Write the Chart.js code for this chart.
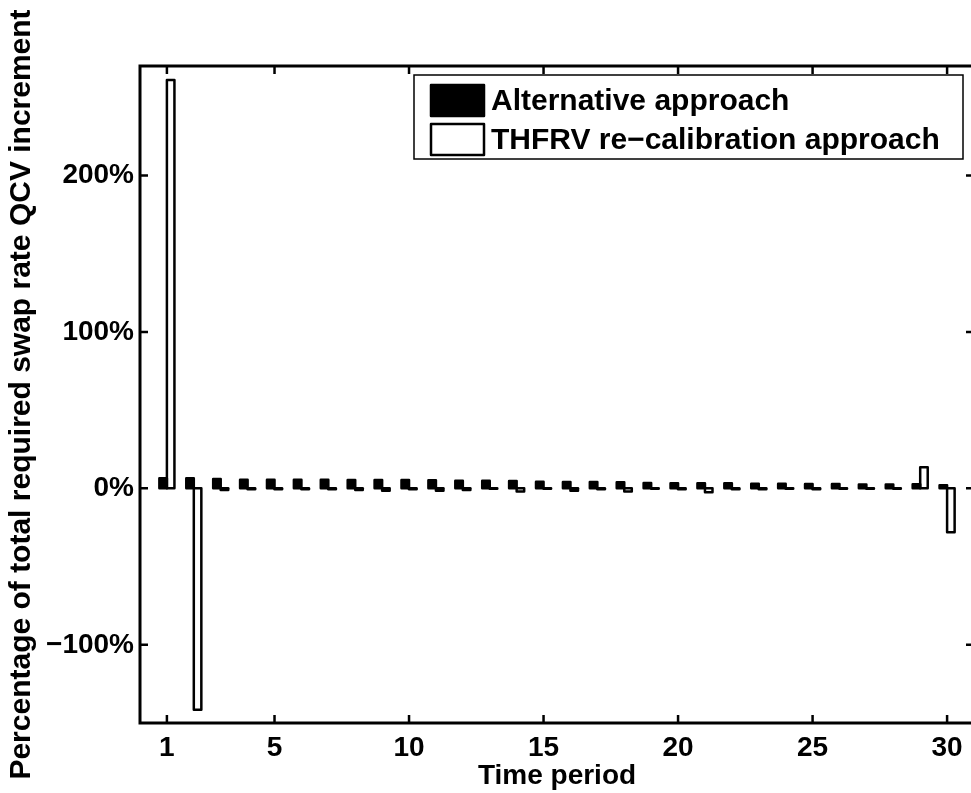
<!DOCTYPE html>
<html>
<head>
<meta charset="utf-8">
<script src="https://cdn.jsdelivr.net/npm/chart.js@4/dist/chart.umd.min.js"></script>
<style>
  html, body { margin: 0; padding: 0; background: #fff; overflow: hidden; }
  #wrap { position: absolute; left: 0; top: 0; width: 980px; height: 793px; }
</style>
</head>
<body>
<div id="wrap"><canvas id="chart" width="980" height="793"></canvas></div>
<script>
// ---- DATA ----
const periods = [1, 2, 3, 4, 5, 6, 7, 8, 9, 10, 11, 12, 13, 14, 15,
                 16, 17, 18, 19, 20, 21, 22, 23, 24, 25, 26, 27, 28, 29, 30];
const alternative = [6.5, 6.5, 6, 5.5, 5.5, 5.5, 5.5, 5.4, 5.4, 5.3, 5.2, 4.8, 4.8, 4.7, 4.3,
                     4.0, 4.0, 3.9, 3.4, 3.3, 3.3, 3.2, 3.0, 3.0, 2.8, 2.8, 2.5, 2.5, 2.6, 2.0];
const thfrv = [261, -141.5, -1, -0.5, -0.5, -0.5, -0.5, -1, -1.5, -0.5, -1.5, -1, -0.3, -2, -0.3,
               -1.5, -0.5, -2, -0.2, -0.5, -2.5, -0.5, -0.5, -0.3, -0.5, -0.3, -0.3, -0.3, 13.5, -28];
const xTicks = [1, 5, 10, 15, 20, 25, 30];
const yTicks = [-100, 0, 100, 200];
const seriesNames = ['Alternative approach', 'THFRV re\u2212calibration approach'];

const FONT = '"Liberation Sans", Arial, Helvetica, sans-serif';

// ---- PLUGINS ----
// matlab style outline round each bar (centred stroke)
const barOutline = {
  id: 'barOutline',
  afterDatasetsDraw(chart) {
    const ctx = chart.ctx;
    ctx.save();
    ctx.lineWidth = 2.5;
    ctx.lineJoin = 'round';
    ctx.strokeStyle = '#000';
    chart.data.datasets.forEach((ds, i) => {
      chart.getDatasetMeta(i).data.forEach(el => {
        const { x, y, base, width } = el.getProps(['x', 'y', 'base', 'width'], true);
        ctx.strokeRect(x - width / 2, Math.min(y, base), width, Math.abs(base - y));
      });
    });
    ctx.restore();
  }
};

// box round the axes with inward ticks on all four sides
const axesBox = {
  id: 'axesBox',
  afterDraw(chart) {
    const { ctx, chartArea: a, scales } = chart;
    const len = 8;
    ctx.save();
    ctx.strokeStyle = '#000';
    ctx.lineWidth = 3;
    ctx.strokeRect(a.left, a.top, a.right - a.left, a.bottom - a.top);
    ctx.lineWidth = 2.5;
    ctx.beginPath();
    scales.x.ticks.forEach(t => {
      const px = scales.x.getPixelForValue(t.value);
      ctx.moveTo(px, a.bottom); ctx.lineTo(px, a.bottom - len);
      ctx.moveTo(px, a.top);    ctx.lineTo(px, a.top + len);
    });
    scales.y.ticks.forEach(t => {
      const py = scales.y.getPixelForValue(t.value);
      ctx.moveTo(a.left, py);  ctx.lineTo(a.left + len, py);
      ctx.moveTo(a.right, py); ctx.lineTo(a.right - len, py);
    });
    ctx.stroke();
    ctx.restore();
  }
};

// legend box, top right inside the axes
const boxLegend = {
  id: 'boxLegend',
  afterDraw(chart) {
    const ctx = chart.ctx;
    const bx = 414, by = 75, bw = 549, bh = 84;
    ctx.save();
    ctx.fillStyle = '#fff';
    ctx.fillRect(bx, by, bw, bh);
    ctx.strokeStyle = '#000';
    ctx.lineWidth = 1.5;
    ctx.strokeRect(bx, by, bw, bh);
    ctx.font = 'bold 30px ' + FONT;
    ctx.textBaseline = 'middle';
    chart.data.datasets.forEach((ds, i) => {
      const sy = by + 10 + i * 39;
      ctx.fillStyle = ds.backgroundColor;
      ctx.fillRect(431, sy, 53, 31);
      ctx.lineWidth = 2.5;
      ctx.lineJoin = 'round';
      ctx.strokeRect(431, sy, 53, 31);
      ctx.fillStyle = '#000';
      ctx.fillText(ds.label, 491, sy + 17);
    });
    ctx.restore();
  }
};

// ---- CHART ----
const pts = vals => periods.map((p, i) => ({ x: p, y: vals[i] }));

new Chart(document.getElementById('chart'), {
  type: 'bar',
  data: {
    datasets: [
      { label: seriesNames[0], data: pts(alternative), backgroundColor: '#000', borderWidth: 0 },
      { label: seriesNames[1], data: pts(thfrv), backgroundColor: '#fff', borderWidth: 0 }
    ]
  },
  options: {
    responsive: false,
    animation: false,
    devicePixelRatio: 1,
    categoryPercentage: 0.56,
    barPercentage: 1.0,
    layout: { padding: { top: 66, right: 6, bottom: 0, left: 0 } },
    plugins: { legend: { display: false }, tooltip: { enabled: false } },
    scales: {
      x: {
        type: 'linear',
        min: 0, max: 31,
        offset: false,
        grid: { display: false, drawTicks: false },
        border: { display: false },
        afterBuildTicks: s => { s.ticks = xTicks.map(v => ({ value: v })); },
        afterFit: s => { s.height = 70; },
        ticks: { color: '#000', padding: 8, maxRotation: 0, font: { family: FONT, size: 28, weight: 'bold' } },
        title: { display: true, text: 'Time period', color: '#000', padding: { top: 0, bottom: 0 },
                 font: { family: FONT, size: 28, weight: 'bold' } }
      },
      y: {
        min: -150, max: 270,
        grid: { display: false, drawTicks: false },
        border: { display: false },
        afterBuildTicks: s => { s.ticks = yTicks.map(v => ({ value: v })); },
        afterFit: s => { s.width = 140; },
        ticks: {
          color: '#000', padding: 6,
          font: { family: FONT, size: 28, weight: 'bold' },
          callback: v => (v < 0 ? '\u2212' + Math.abs(v) : v) + '%'
        },
        title: { display: true, text: 'Percentage of total required swap rate QCV increment', color: '#000',
                 padding: { top: 4, bottom: 0 }, font: { family: FONT, size: 30, weight: 'bold' } }
      }
    }
  },
  plugins: [barOutline, axesBox, boxLegend]
});
</script>
</body>
</html>
